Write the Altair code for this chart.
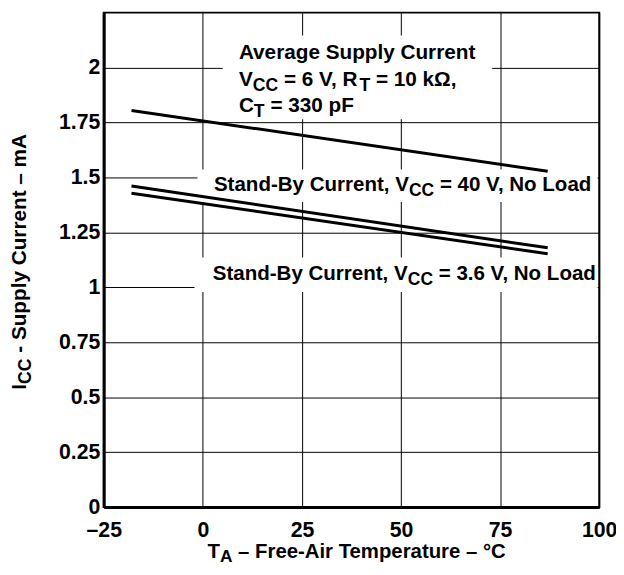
import altair as alt
import pandas as pd

# ---------------- data ----------------
temp_c = [-18, 87]
avg_supply_ma = [1.805, 1.528]
standby_40v_ma = [1.461, 1.180]
standby_3v6_ma = [1.428, 1.153]

X_TICKS = [-25, 0, 25, 50, 75, 100]
Y_TICKS = [0, 0.25, 0.5, 0.75, 1, 1.25, 1.5, 1.75, 2]
X_DOMAIN = [-25, 100]
Y_DOMAIN = [0, 2.25]

# annotation text: list of lines, each a list of (text, is_subscript)
AVG_LABEL = [
    [("Average Supply Current", False)],
    [("V", False), ("CC", True), (" = 6 V, R", False), ("T", True), (" = 10 kΩ,", False)],
    [("C", False), ("T", True), (" = 330 pF", False)],
]
V40_LABEL = [[("Stand-By Current, V", False), ("CC", True), (" = 40 V, No Load", False)]]
V36_LABEL = [[("Stand-By Current, V", False), ("CC", True), (" = 3.6 V, No Load", False)]]
X_TITLE = [("T", False), ("A", True), (" – Free-Air Temperature – °C", False)]
Y_TITLE = [("I", False), ("CC", True), (" - Supply Current – mA", False)]

# annotation anchors (data units: left edge, baseline of first line)
label_x = [9.1, 2.8, 2.5]
label_y = [2.037, 1.437, 1.032]
label_fs = [21, 20.8, 20.8]
# white boxes behind labels (data units)
box_x1 = [5.0, -1.35, -2.1]
box_x2 = [73.0, 99.6, 99.6]
box_y1 = [1.765, 1.388, 0.979]
box_y2 = [2.146, 1.536, 1.136]

# ---------------- styling ----------------
FONT = "Liberation Sans"
FS = 21
TICK_FS = 21.5
SUB = 0.85
SUB_DY = 5
LINE_GAP = 26.5
W, H = 502, 501

CW = {' ': 278, '-': 333, '–': 556, ',': 278, '.': 278, '=': 584, '°': 400, 'Ω': 768,
      'A': 722, 'B': 722, 'C': 722, 'D': 722, 'E': 667, 'F': 611, 'G': 778, 'H': 722,
      'I': 278, 'J': 556, 'K': 722, 'L': 611, 'M': 833, 'N': 722, 'O': 778, 'P': 667,
      'Q': 778, 'R': 722, 'S': 667, 'T': 611, 'U': 722, 'V': 667, 'W': 944, 'X': 667,
      'Y': 667, 'Z': 611, 'a': 556, 'b': 611, 'c': 556, 'd': 611, 'e': 556, 'f': 333,
      'g': 611, 'h': 611, 'i': 278, 'j': 278, 'k': 556, 'l': 278, 'm': 889, 'n': 611,
      'o': 611, 'p': 611, 'q': 611, 'r': 389, 's': 556, 't': 333, 'u': 611, 'v': 556,
      'w': 778, 'x': 556, 'y': 556, 'z': 500}
for d in "0123456789":
    CW[d] = 556


def text_w(s, size):
    return sum(CW.get(c, 556) for c in s) * size / 1000.0


xs = alt.Scale(domain=X_DOMAIN, nice=False, zero=False)
ys = alt.Scale(domain=Y_DOMAIN, nice=False, zero=False)


def rich(segments, enc_fn, align="left", angle=0, base_dy=0.0, extra=None, fs=FS, sub_dy=SUB_DY):
    """One text layer per segment; subscripts smaller and lowered, placed by dx.
    Vega trims whitespace, so leading spaces are turned into extra dx."""
    sizes = [fs * (SUB if sub else 1) for _, sub in segments]
    widths = [text_w(t, s) for (t, _), s in zip(segments, sizes)]
    off = -sum(widths) / 2 if align == "center" else 0.0
    out = []
    for (t, sub), s, w in zip(segments, sizes, widths):
        stripped = t.lstrip(" ")
        lead = text_w(t[: len(t) - len(stripped)], s)
        kw = dict(align="left", baseline="alphabetic", dx=off + lead,
                  dy=base_dy + (sub_dy if sub else 0), fontSize=s,
                  fontWeight="bold", font=FONT, color="black")
        if angle:
            kw["angle"] = angle
        row = {"t": [stripped]}
        if extra:
            row.update({k: [v] for k, v in extra.items()})
        out.append(
            alt.Chart(pd.DataFrame(row)).mark_text(**kw).encode(text="t:N", **enc_fn())
        )
        off += w
    return out


# ---------------- series ----------------
rows = []
for name, vals in [("avg", avg_supply_ma), ("v40", standby_40v_ma), ("v36", standby_3v6_ma)]:
    for x, y in zip(temp_c, vals):
        rows.append({"series": name, "temp": x, "icc": y})
series_df = pd.DataFrame(rows)

x_axis = alt.Axis(values=X_TICKS, grid=True, ticks=False, title=None,
                  labelExpr="datum.value < 0 ? '–' + format(-datum.value, 'd') : format(datum.value, 'd')",
                  labelFlush=False, labelPadding=13)
y_axis = alt.Axis(values=Y_TICKS, grid=True, ticks=False, title=None,
                  format=".2~f", labelPadding=4)

boxes_df = pd.DataFrame({"x1": box_x1, "x2": box_x2, "y1": box_y1, "y2": box_y2})
boxes = alt.Chart(boxes_df).mark_rect(color="white").encode(
    x=alt.X("x1:Q", scale=xs, axis=x_axis),
    x2="x2:Q",
    y=alt.Y("y1:Q", scale=ys, axis=y_axis),
    y2="y2:Q",
)

lines = alt.Chart(series_df).mark_line(color="black", strokeWidth=3).encode(
    x=alt.X("temp:Q", scale=xs),
    y=alt.Y("icc:Q", scale=ys),
    detail="series:N",
)

layers = [boxes, lines]

anchor_enc = lambda: dict(x=alt.X("lx:Q", scale=xs), y=alt.Y("ly:Q", scale=ys))
for lab, lx, ly, lfs in zip([AVG_LABEL, V40_LABEL, V36_LABEL], label_x, label_y, label_fs):
    for i, line in enumerate(lab):
        layers += rich(line, anchor_enc, base_dy=i * LINE_GAP, extra={"lx": lx, "ly": ly}, fs=lfs)

# axis titles
layers += rich(X_TITLE, lambda: dict(x=alt.value(W / 2 + 6), y=alt.value(H + 52)),
               align="center", fs=20.6, sub_dy=4)
layers += rich(Y_TITLE, lambda: dict(x=alt.value(-79), y=alt.value(H / 2 + 2)), align="center", angle=270)

chart = alt.layer(*layers).properties(
    width=W, height=H,
    autosize=alt.AutoSizeParams(type="none"),
    padding={"left": 97, "top": 1, "right": 17, "bottom": 57},
).configure_view(stroke="black", strokeWidth=2).configure_axis(
    gridColor="black", gridWidth=1, gridOpacity=1,
    domainColor="black", domainWidth=3,
    labelFont=FONT, labelFontSize=TICK_FS, labelFontWeight="bold", labelColor="black",
)

chart.save("out.html", embed_options={"renderer": "svg", "actions": False})
